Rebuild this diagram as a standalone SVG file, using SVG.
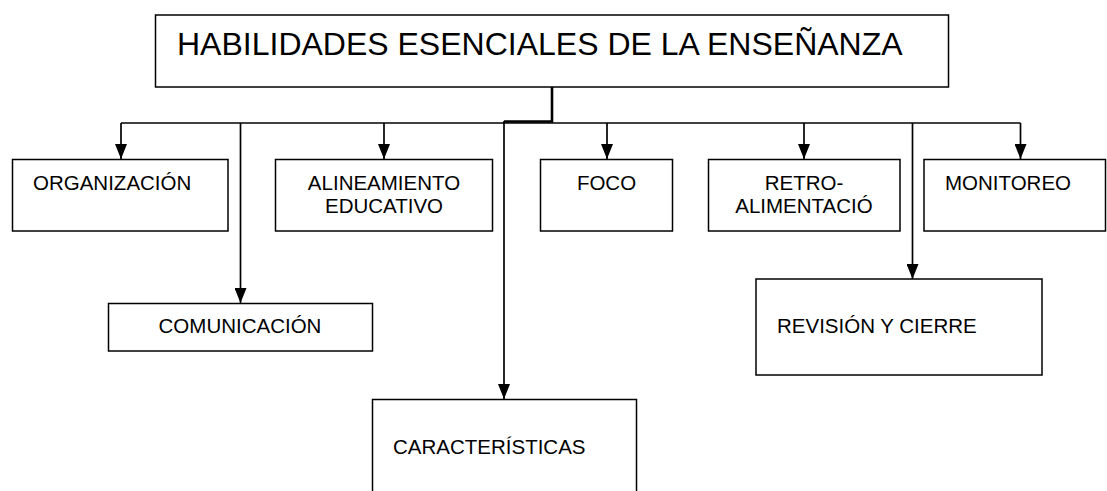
<svg xmlns="http://www.w3.org/2000/svg" width="1107" height="491" viewBox="0 0 1107 491">
<style>
.box{fill:#fff;stroke:#000;stroke-width:1.5}
.lbl{font-family:"Liberation Sans",Arial,Helvetica,sans-serif;font-size:20.5px;fill:#000}
.c{text-anchor:middle}
.title{font-family:"Liberation Sans",Arial,Helvetica,sans-serif;font-size:32px;fill:#000}
.ln{fill:none;stroke:#000;stroke-width:1.7}
.stem{fill:none;stroke:#000;stroke-width:2.6}
</style>
<defs>
<marker id="ah" viewBox="0 0 15 12" refX="15" refY="6" markerWidth="15" markerHeight="12" markerUnits="userSpaceOnUse" orient="auto">
<path d="M0,0 L15,6 L0,12 z" fill="#000"/>
</marker>
</defs>
<rect width="1107" height="491" fill="#fff"/>
<g id="connectors">
<path class="stem" d="M552,87 V121.5 H504"/>
<path class="ln" d="M121,123 H1020.5"/>
<path class="ln" d="M121,123 V159" marker-end="url(#ah)"/>
<path class="ln" d="M240.5,123 V303" marker-end="url(#ah)"/>
<path class="ln" d="M384,123 V159" marker-end="url(#ah)"/>
<path class="ln" d="M504,121 V399" marker-end="url(#ah)"/>
<path class="ln" d="M607,123 V159" marker-end="url(#ah)"/>
<path class="ln" d="M804,123 V159" marker-end="url(#ah)"/>
<path class="ln" d="M912.5,123 V279" marker-end="url(#ah)"/>
<path class="ln" d="M1020.5,123 V159" marker-end="url(#ah)"/>
</g>
<g id="n-title">
<rect class="box" x="155.5" y="15" width="793" height="72"/>
<text class="title" x="177" y="55">HABILIDADES ESENCIALES DE LA ENSEÑANZA</text>
</g>
<g id="n-organizacion">
<rect class="box" x="12.5" y="159.5" width="215.5" height="71.5"/>
<text class="lbl" x="33" y="190">ORGANIZACIÓN</text>
</g>
<g id="n-alineamiento">
<rect class="box" x="275.5" y="159.5" width="217" height="71.5"/>
<text class="lbl c" x="384" y="190">ALINEAMIENTO</text>
<text class="lbl c" x="384" y="213">EDUCATIVO</text>
</g>
<g id="n-foco">
<rect class="box" x="540.5" y="159.5" width="132" height="71.5"/>
<text class="lbl c" x="606.5" y="190">FOCO</text>
</g>
<g id="n-retro">
<rect class="box" x="708.5" y="159.5" width="191.5" height="71.5"/>
<text class="lbl c" x="804" y="190">RETRO-</text>
<text class="lbl c" x="804" y="213">ALIMENTACIÓ</text>
</g>
<g id="n-monitoreo">
<rect class="box" x="924" y="159.5" width="181.5" height="71.5"/>
<text class="lbl" x="945" y="190">MONITOREO</text>
</g>
<g id="n-comunicacion">
<rect class="box" x="108.5" y="303.5" width="264" height="47.5"/>
<text class="lbl c" x="240" y="333">COMUNICACIÓN</text>
</g>
<g id="n-revision">
<rect class="box" x="756" y="279" width="286" height="96"/>
<text class="lbl" x="777" y="333">REVISIÓN Y CIERRE</text>
</g>
<g id="n-caracteristicas">
<rect class="box" x="372.5" y="399.5" width="264" height="110"/>
<text class="lbl" x="393" y="454">CARACTERÍSTICAS</text>
</g>
</svg>
